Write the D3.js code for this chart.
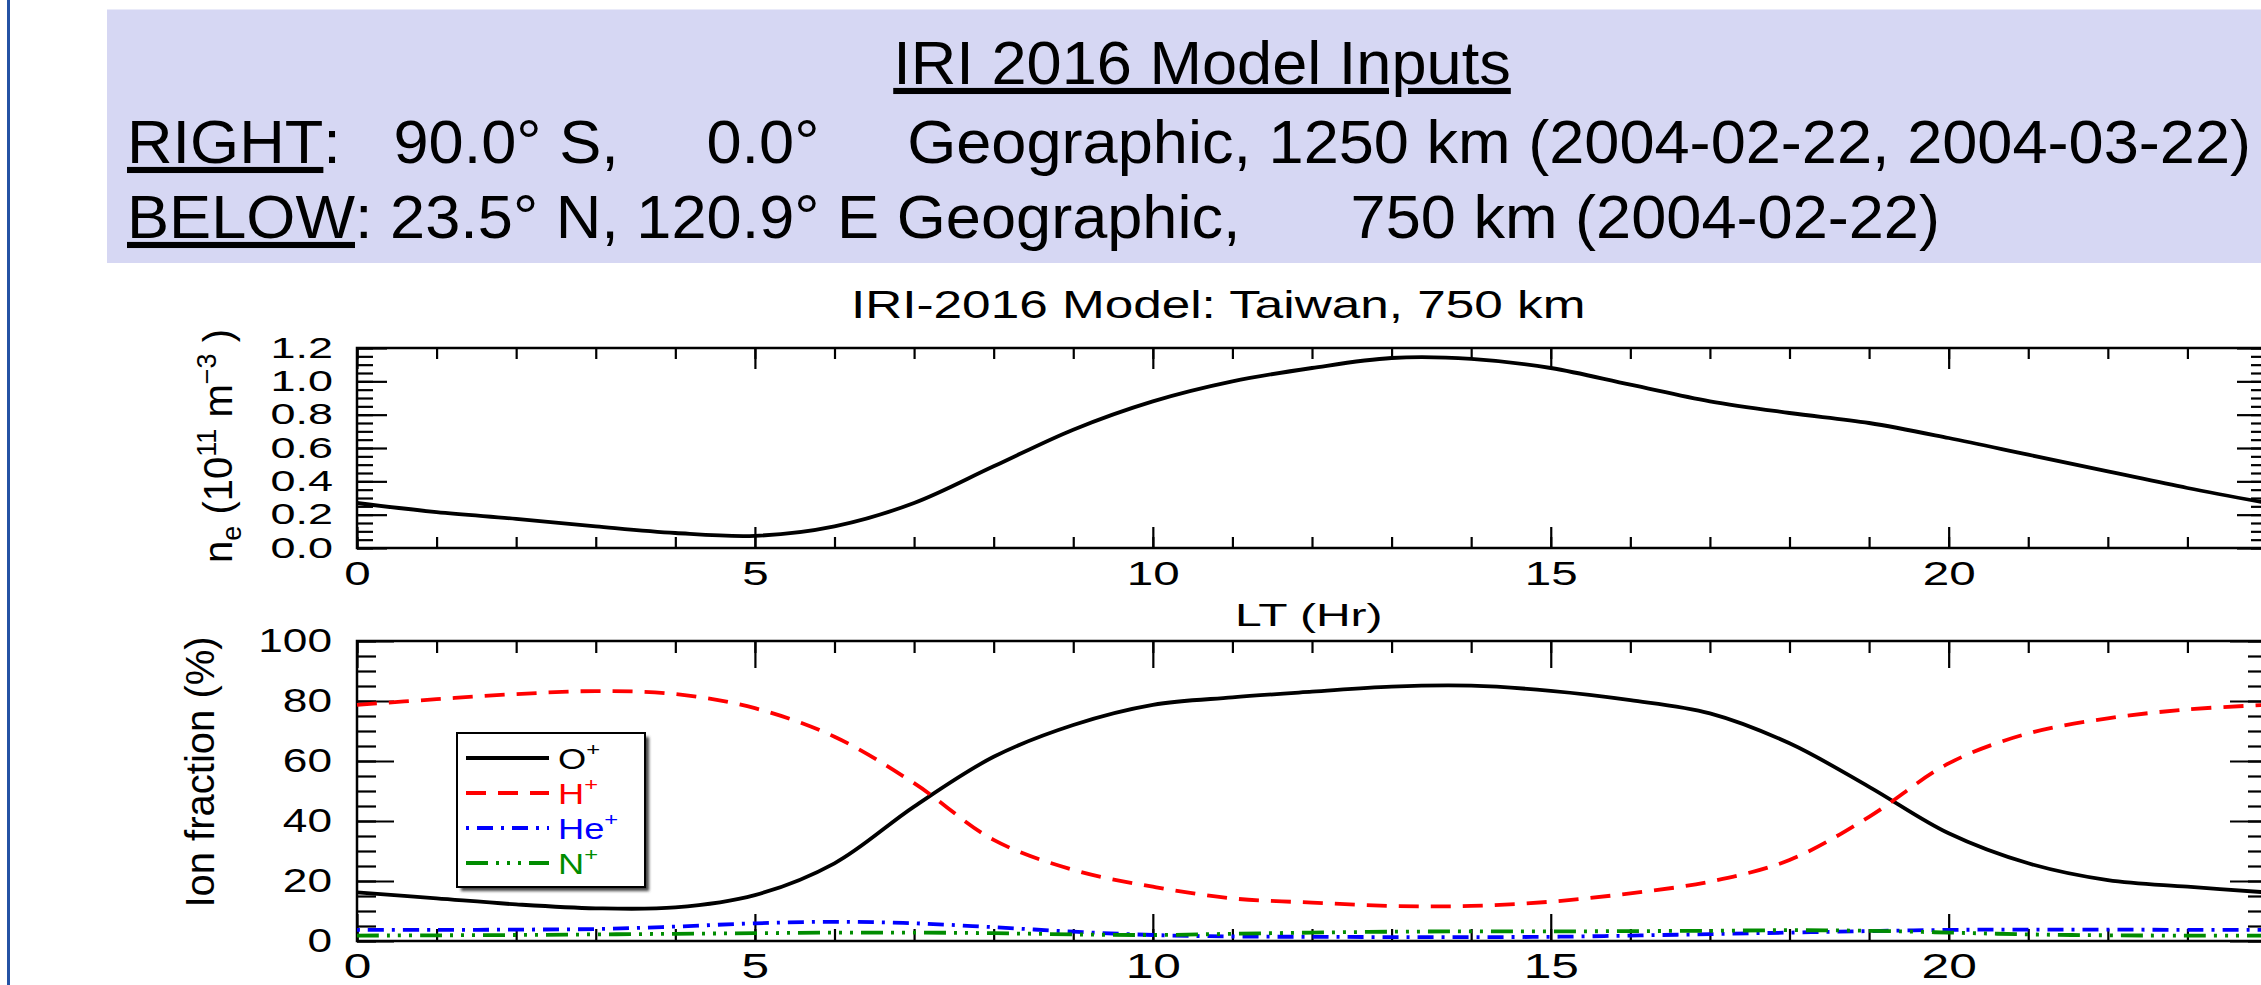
<!DOCTYPE html>
<html>
<head>
<meta charset="utf-8">
<script src="https://cdn.jsdelivr.net/npm/d3@7"></script>
<style>
  body { margin: 0; background: #fff; overflow: hidden; }
  svg { display: block; }
  text { font-family: "Liberation Sans", Arial, sans-serif; }
</style>
</head>
<body>
<div id="chart"></div>
<script>
// ---- data (Taiwan, 750 km) ----
const localTime = [0, 1, 2, 3, 4, 5, 6, 7, 8, 9, 10, 11, 12, 13, 14, 15, 16, 17, 18, 19, 20, 21, 22, 23, 24];
// electron density, 10^11 m^-3
const electronDensity = [0.27, 0.215, 0.175, 0.13, 0.09, 0.073, 0.13, 0.27, 0.49, 0.71, 0.88, 1.0, 1.08, 1.14, 1.135, 1.08, 0.98, 0.88, 0.81, 0.75, 0.66, 0.56, 0.46, 0.36, 0.27];
// ion fractions, %
const fracOplus  = [16.2, 14.2, 12.2, 10.9, 11.2, 15.3, 25.9, 44.8, 61.4, 72.0, 78.7, 81.2, 83.1, 84.8, 85.1, 83.4, 80.3, 75.9, 65.9, 51.4, 35.9, 25.9, 20.3, 18.1, 16.2];
const fracHplus  = [78.7, 80.6, 82.3, 83.3, 82.3, 77.6, 68.1, 52.6, 33.7, 23.7, 18.1, 14.2, 12.8, 11.7, 11.7, 13.1, 15.9, 19.8, 27.0, 41.4, 59.2, 69.2, 74.2, 77.2, 78.7];
const fracHeplus = [3.7, 3.7, 3.8, 4.0, 4.8, 5.9, 6.4, 5.9, 4.6, 3.1, 2.0, 1.5, 1.4, 1.3, 1.3, 1.4, 1.8, 2.3, 2.8, 3.3, 3.7, 3.8, 3.8, 3.7, 3.7];
const fracNplus  = [1.8, 1.9, 2.0, 2.2, 2.4, 2.6, 2.8, 2.8, 2.6, 2.2, 2.0, 2.4, 2.8, 3.1, 3.2, 3.2, 3.3, 3.4, 3.6, 3.4, 2.8, 2.2, 1.9, 1.8, 1.8];

const hourTicks = [0, 5, 10, 15, 20];
const neTicks = [0.0, 0.2, 0.4, 0.6, 0.8, 1.0, 1.2];
const ionTicks = [0, 20, 40, 60, 80, 100];
const ionNames = ["O", "H", "He", "N"];

const headerTitle = "IRI 2016 Model Inputs";
const headerRight = ["RIGHT", ":   90.0° S,     0.0°     Geographic, 1250 km (2004-02-22, 2004-03-22)"];
const headerBelow = ["BELOW", ": 23.5° N, 120.9° E Geographic,", "750 km (2004-02-22)"];
const plotTitle = "IRI-2016 Model: Taiwan, 750 km";

const W = 2261, H = 985;
const svg = d3.select("#chart").append("svg")
  .attr("width", W)
  .attr("height", H);

svg.append("rect").attr("width", W).attr("height", H).attr("fill", "#fff");
// slide border on the left
svg.append("line")
  .attr("x1", 8.5).attr("x2", 8.5).attr("y1", 0).attr("y2", H)
  .attr("stroke", "#2452a4").attr("stroke-width", 3);

// ---- header box ----
svg.append("rect")
  .attr("x", 107).attr("y", 9.5)
  .attr("width", 2200).attr("height", 253.5)
  .attr("fill", "#d6d7f3");

let hdrStretch = 1.035;
function headerText(xPos, base) {
  return svg.append("text")
    .attr("transform", `translate(${xPos},${base}) scale(${hdrStretch},1)`)
    .attr("font-size", 61)
    .attr("xml:space", "preserve")
    .style("white-space", "pre");
}

headerText(1202, 84)
  .attr("text-anchor", "middle")
  .style("text-decoration", "underline")
  .text(headerTitle);

let l2 = headerText(127, 163);
l2.append("tspan").style("text-decoration", "underline").text(headerRight[0]);
l2.append("tspan").text(headerRight[1]);

let l3 = headerText(127, 238);
l3.append("tspan").style("text-decoration", "underline").text(headerBelow[0]);
l3.append("tspan").text(headerBelow[1]);
// altitude column is tab-aligned in the slide
headerText(1940, 238).attr("text-anchor", "end").text(headerBelow[2]);

// ---- scales ----
const x = d3.scaleLinear().domain([0, 24]).range([357, 2267]);
const yNe = d3.scaleLinear().domain([0, 1.2]).range([548, 348]);
const yIon = d3.scaleLinear().domain([0, 100]).range([941, 641]);

// IDL output looks horizontally stretched, so widen the glyphs
function stretchText(sel, s) {
  sel.each(function() {
    let t = d3.select(this);
    let tx = +t.attr("x") || 0, ty = +t.attr("y") || 0;
    t.attr("x", null).attr("y", null)
      .attr("transform", `translate(${tx},${ty}) scale(${s},1)`);
  });
}

function styleAxis(g) {
  g.select(".domain").remove();
  g.selectAll(".tick line").attr("stroke", "#000").attr("stroke-width", 2.2);
  g.attr("font-family", null);
}

function panel(yScale, cfg) {
  let [yb, yt] = yScale.range();
  let [xl, xr] = x.range();
  let g = svg.append("g");

  // hour minor ticks, bottom + top
  g.append("g").attr("transform", `translate(0,${yb})`)
    .call(d3.axisBottom(x).tickValues(localTime).tickSizeInner(-cfg.xMinor).tickSizeOuter(0).tickFormat(""))
    .call(styleAxis);
  g.append("g").attr("transform", `translate(0,${yt})`)
    .call(d3.axisTop(x).tickValues(localTime).tickSizeInner(-cfg.xMinor).tickSizeOuter(0).tickFormat(""))
    .call(styleAxis);
  g.append("g").attr("transform", `translate(0,${yt})`)
    .call(d3.axisTop(x).tickValues(hourTicks).tickSizeInner(-cfg.xMajor).tickSizeOuter(0).tickFormat(""))
    .call(styleAxis);

  let xAx = g.append("g").attr("transform", `translate(0,${yb})`)
    .call(d3.axisBottom(x).tickValues(hourTicks).tickSizeInner(-cfg.xMajor).tickSizeOuter(0).tickPadding(cfg.xPad).tickFormat(d3.format("d")))
    .call(styleAxis)
    .attr("font-size", cfg.xFont);
  xAx.selectAll("text").attr("fill", "#000");
  stretchText(xAx.selectAll("text"), cfg.xStretch);

  // value minor + major ticks, left + right
  [[d3.axisLeft, xl], [d3.axisRight, xr]].forEach(function([axisFn, px]) {
    g.append("g").attr("transform", `translate(${px},0)`)
      .call(axisFn(yScale).tickValues(cfg.yMinorTicks).tickSizeInner(-cfg.yMinor).tickSizeOuter(0).tickFormat(""))
      .call(styleAxis);
  });
  g.append("g").attr("transform", `translate(${xr},0)`)
    .call(d3.axisRight(yScale).tickValues(cfg.yTicks).tickSizeInner(-cfg.yMajor).tickSizeOuter(0).tickFormat(""))
    .call(styleAxis);
  let yAx = g.append("g").attr("transform", `translate(${xl},0)`)
    .call(d3.axisLeft(yScale).tickValues(cfg.yTicks).tickSizeInner(-cfg.yMajor).tickSizeOuter(0).tickPadding(cfg.yPad).tickFormat(cfg.yFormat))
    .call(styleAxis)
    .attr("font-size", cfg.yFont);
  yAx.selectAll("text").attr("fill", "#000");
  stretchText(yAx.selectAll("text"), cfg.yStretch);

  g.append("rect")
    .attr("x", xl).attr("y", yt)
    .attr("width", xr - xl).attr("height", yb - yt)
    .attr("fill", "none").attr("stroke", "#000").attr("stroke-width", 2.5);
  return g;
}

// ---- top panel: electron density ----
panel(yNe, {
  xMinor: 11, xMajor: 21, xPad: 13, xFont: 34, xStretch: 1.4,
  yMinor: 16, yMajor: 30, yPad: 24, yFont: 29, yStretch: 1.55,
  yTicks: neTicks, yMinorTicks: d3.range(0, 1.2001, 0.05),
  yFormat: d3.format(".1f")
});

const neLine = d3.line()
  .x((d, i) => x(localTime[i]))
  .y(d => yNe(d))
  .curve(d3.curveCatmullRom.alpha(0.5));

svg.append("path")
  .attr("d", neLine(electronDensity))
  .attr("fill", "none").attr("stroke", "#000").attr("stroke-width", 3.8);

svg.append("text")
  .attr("transform", "translate(851,318) scale(1.35,1)")
  .attr("font-size", 38)
  .text(plotTitle);

svg.append("text")
  .attr("transform", "translate(1235,626) scale(1.5,1)")
  .attr("font-size", 32)
  .text("LT (Hr)");

let neTitle = svg.append("text")
  .attr("transform", "translate(232,446) rotate(-90)")
  .attr("text-anchor", "middle")
  .attr("font-size", 40);
neTitle.append("tspan").text("n");
neTitle.append("tspan").attr("font-size", 27).attr("dy", 9).text("e");
neTitle.append("tspan").attr("dy", -9).text(" (10");
neTitle.append("tspan").attr("font-size", 27).attr("dy", -16).text("11");
neTitle.append("tspan").attr("dy", 16).text(" m");
neTitle.append("tspan").attr("font-size", 27).attr("dy", -16).text("\u22123");
neTitle.append("tspan").attr("dy", 16).text(" )");

// ---- bottom panel: ion fractions ----
panel(yIon, {
  xMinor: 12, xMajor: 27, xPad: 12, xFont: 35, xStretch: 1.42,
  yMinor: 19, yMajor: 37, yPad: 25, yFont: 34, yStretch: 1.3,
  yTicks: ionTicks, yMinorTicks: d3.range(0, 100.1, 5),
  yFormat: d3.format("d")
});

svg.append("text")
  .attr("transform", "translate(214,772) rotate(-90)")
  .attr("text-anchor", "middle")
  .attr("font-size", 40)
  .text("Ion fraction (%)");

const ionSeries = [
  { name: ionNames[0], values: fracOplus,  color: "#000000", dash: null },
  { name: ionNames[1], values: fracHplus,  color: "#ff0000", dash: "20,12" },
  { name: ionNames[2], values: fracHeplus, color: "#0000ff", dash: "3,8,16,8" },
  { name: ionNames[3], values: fracNplus,  color: "#008c00", dash: "22,8,3,8,3,8,3,8" }
];

const ionLine = d3.line()
  .x((d, i) => x(localTime[i]))
  .y(d => yIon(d))
  .curve(d3.curveCatmullRom.alpha(0.5));

svg.append("g").selectAll("path")
  .data(ionSeries)
  .enter()
  .append("path")
  .attr("d", d => ionLine(d.values))
  .attr("fill", "none")
  .attr("stroke", d => d.color)
  .attr("stroke-width", 3.8)
  .attr("stroke-dasharray", d => d.dash);

// ---- legend ----
let defs = svg.append("defs");
defs.append("filter").attr("id", "blur")
  .append("feGaussianBlur").attr("stdDeviation", 1.5);

let legend = svg.append("g").attr("transform", "translate(457,733)");
legend.append("rect")
  .attr("x", 4).attr("y", 4).attr("width", 188).attr("height", 154)
  .attr("fill", "#444").attr("filter", "url(#blur)");
legend.append("rect")
  .attr("width", 188).attr("height", 154)
  .attr("fill", "#fff").attr("stroke", "#000").attr("stroke-width", 2);

let rows = legend.selectAll(".row")
  .data(ionSeries)
  .enter()
  .append("g")
  .attr("class", "row")
  .attr("transform", (d, i) => `translate(0,${25 + i * 35})`);

rows.append("line")
  .attr("x1", 9).attr("x2", 92)
  .attr("stroke", d => d.color)
  .attr("stroke-width", 3.8)
  .attr("stroke-dasharray", d => d.dash);

let lt = rows.append("text")
  .attr("transform", "translate(101,11) scale(1.25,1)")
  .attr("font-size", 29)
  .attr("fill", d => d.color);
lt.append("tspan").text(d => d.name);
lt.append("tspan").attr("font-size", 19).attr("dy", -13).text("+");
</script>
</body>
</html>
